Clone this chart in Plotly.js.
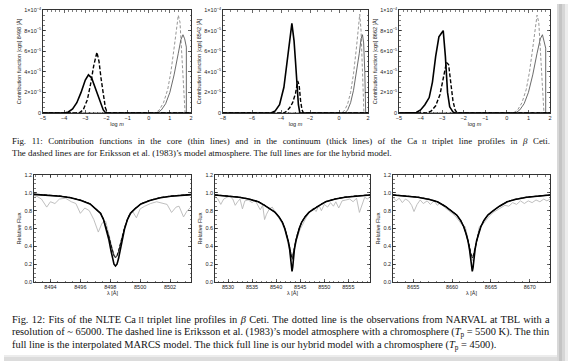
<!DOCTYPE html>
<html><head><meta charset="utf-8">
<script src="https://cdn.plot.ly/plotly-3.0.1.min.js"></script>
<style>html,body{margin:0;padding:0;background:#fff}#c{width:570px;height:361px}</style>
</head><body><div id="c"></div>
<script>
// ---------- Fig. 11 : contribution functions (values in units of 1e-5) ----------
const cfLabels = ["8498", "8542", "8662"];
// 8498
const cf1ThickSolidX = [-5, -4.0, -3.8, -3.6, -3.4, -3.2, -3.0, -2.85, -2.7, -2.5, -2.3, -2.15, -2.05, -1.95, 2];
const cf1ThickSolidY = [0, 0, 0.1, 0.4, 1.0, 2.0, 3.2, 3.7, 3.4, 2.3, 1.0, 0.3, 0.05, 0, 0];
const cf1ThickDashX = [-5, -3.3, -3.1, -2.9, -2.75, -2.6, -2.45, -2.35, -2.25, -2.15, -2.05, -1.95, 2];
const cf1ThickDashY = [0, 0, 0.3, 1.3, 2.8, 4.6, 5.9, 5.0, 3.3, 1.7, 0.5, 0, 0];
const cf1ThinSolidX = [-5, 0.4, 0.6, 0.8, 1.0, 1.2, 1.4, 1.52, 1.62, 1.7, 1.78, 1.78, 2];
const cf1ThinSolidY = [0, 0, 0.3, 0.9, 2.0, 3.7, 5.8, 7.1, 7.6, 7.2, 6.4, 0, 0];
const cf1ThinDashX = [-5, 0.3, 0.5, 0.7, 0.9, 1.05, 1.2, 1.3, 1.4, 1.48, 1.56, 1.64, 1.72, 2];
const cf1ThinDashY = [0, 0, 0.3, 1.0, 2.3, 4.0, 6.3, 8.2, 9.5, 8.8, 6.0, 2.5, 0, 0];
// 8542
const cf2ThickSolidX = [-8, -4.7, -4.4, -4.1, -3.8, -3.6, -3.4, -3.25, -3.1, -3.0, -2.9, -2.8, -2.7, 2];
const cf2ThickSolidY = [0, 0, 0.2, 0.8, 2.5, 4.5, 7.0, 8.7, 7.0, 5.0, 2.5, 0.8, 0, 0];
const cf2ThickDashX = [-8, -3.8, -3.6, -3.4, -3.2, -3.0, -2.85, -2.75, -2.65, -2.55, -2.45, 2];
const cf2ThickDashY = [0, 0, 0.2, 0.5, 1.0, 1.9, 3.1, 2.7, 1.2, 0.3, 0, 0];
const cf2ThinSolidX = [-8, 0.4, 0.6, 0.8, 1.0, 1.2, 1.4, 1.52, 1.62, 1.7, 1.78, 1.84, 2];
const cf2ThinSolidY = [0, 0, 0.3, 1.0, 2.2, 3.8, 5.8, 7.2, 7.6, 6.8, 4.0, 0, 0];
const cf2ThinDashX = [-8, 0.2, 0.4, 0.6, 0.8, 1.0, 1.2, 1.33, 1.43, 1.52, 1.62, 1.72, 2];
const cf2ThinDashY = [0, 0, 0.3, 0.9, 2.0, 3.8, 6.3, 8.5, 9.6, 8.0, 4.5, 0, 0];
// 8662
const cf3ThickSolidX = [-5, -4.5, -4.2, -4.0, -3.8, -3.6, -3.45, -3.3, -3.15, -3.05, -2.95, -2.85, -2.75, -2.65, -2.5, -2.4, 2];
const cf3ThickSolidY = [0, 0, 0.05, 0.3, 0.8, 1.5, 3.0, 5.5, 7.4, 7.7, 8.0, 5.5, 2.0, 0.6, 0.1, 0, 0];
const cf3ThickDashX = [-5, -3.7, -3.5, -3.3, -3.1, -2.95, -2.8, -2.7, -2.6, -2.5, -2.4, -2.3, 2];
const cf3ThickDashY = [0, 0, 0.2, 0.7, 1.8, 3.5, 4.9, 4.7, 3.0, 1.2, 0.3, 0, 0];
const cf3ThinSolidX = [-5, 0.4, 0.6, 0.8, 1.0, 1.2, 1.4, 1.55, 1.65, 1.72, 1.8, 1.8, 2];
const cf3ThinSolidY = [0, 0, 0.3, 0.9, 2.0, 3.7, 5.8, 7.2, 7.6, 7.1, 6.3, 0, 0];
const cf3ThinDashX = [-5, 0.3, 0.5, 0.7, 0.9, 1.05, 1.2, 1.3, 1.4, 1.48, 1.56, 1.64, 1.72, 2];
const cf3ThinDashY = [0, 0, 0.3, 1.0, 2.3, 4.0, 6.3, 8.2, 9.5, 8.8, 6.0, 2.5, 0, 0];

const cfTickVals = [0, 2, 4, 6, 8, 10];
const cfTickText = ["0", "2×10<sup>−5</sup>", "4×10<sup>−5</sup>", "6×10<sup>−5</sup>", "8×10<sup>−5</sup>", "1×10<sup>−4</sup>"];

// ---------- Fig. 12 : line profiles ----------
// 8498
const p1X = [8492.9, 8493.85, 8494.65, 8495.35, 8496.05, 8496.65, 8497.05, 8497.35, 8497.55, 8497.75, 8497.9, 8498.05, 8498.15, 8498.25, 8498.35, 8498.45, 8498.55, 8498.65, 8498.8, 8498.95, 8499.15, 8499.35, 8499.65, 8500.05, 8500.65, 8501.35, 8502.05, 8502.85, 8503.4];
const p1Thick = [0.983, 0.975, 0.962, 0.945, 0.915, 0.875, 0.82, 0.77, 0.70, 0.59, 0.48, 0.35, 0.26, 0.20, 0.18, 0.20, 0.26, 0.35, 0.48, 0.59, 0.70, 0.77, 0.82, 0.875, 0.915, 0.945, 0.962, 0.975, 0.98];
const p1Thin = [0.983, 0.975, 0.962, 0.945, 0.915, 0.875, 0.82, 0.77, 0.70, 0.60, 0.51, 0.41, 0.34, 0.29, 0.27, 0.29, 0.34, 0.41, 0.51, 0.60, 0.70, 0.77, 0.82, 0.875, 0.915, 0.945, 0.962, 0.975, 0.98];
const p1Dash = [0.985, 0.977, 0.965, 0.948, 0.918, 0.878, 0.825, 0.775, 0.705, 0.61, 0.52, 0.42, 0.35, 0.30, 0.28, 0.30, 0.35, 0.42, 0.52, 0.61, 0.705, 0.775, 0.825, 0.878, 0.918, 0.948, 0.965, 0.977, 0.982];
const p1ObsX = [8492.9, 8493.1, 8493.4, 8493.75, 8494.0, 8494.3, 8494.6, 8495.0, 8495.4, 8495.7, 8496.0, 8496.3, 8496.6, 8496.9, 8497.2, 8497.45, 8497.7, 8497.9, 8498.05, 8498.2, 8498.35, 8498.5, 8498.65, 8498.8, 8499.0, 8499.25, 8499.5, 8499.75, 8500.0, 8500.3, 8500.7, 8501.1, 8501.5, 8501.8, 8502.1, 8502.4, 8502.6, 8502.9, 8503.15, 8503.4];
const p1ObsY = [0.97, 0.96, 0.93, 0.84, 0.90, 0.88, 0.93, 0.94, 0.90, 0.88, 0.77, 0.83, 0.80, 0.70, 0.56, 0.66, 0.68, 0.55, 0.42, 0.33, 0.28, 0.30, 0.40, 0.52, 0.64, 0.75, 0.79, 0.72, 0.82, 0.85, 0.88, 0.90, 0.88, 0.87, 0.78, 0.84, 0.85, 0.73, 0.80, 0.84];
// 8542
const p2X = [8527.3, 8529.8, 8532.3, 8534.3, 8536.3, 8537.6, 8538.8, 8539.8, 8540.6, 8541.3, 8541.8, 8542.2, 8542.5, 8542.8, 8543.0, 8543.15, 8543.3, 8543.45, 8543.6, 8543.8, 8544.1, 8544.4, 8544.8, 8545.3, 8546.0, 8546.8, 8547.8, 8549.0, 8550.3, 8552.3, 8554.3, 8556.8, 8559.5];
const p2Thick = [0.975, 0.965, 0.95, 0.93, 0.90, 0.86, 0.82, 0.78, 0.73, 0.67, 0.60, 0.53, 0.46, 0.37, 0.27, 0.17, 0.12, 0.17, 0.27, 0.37, 0.46, 0.53, 0.60, 0.67, 0.73, 0.78, 0.82, 0.86, 0.90, 0.93, 0.95, 0.965, 0.975];
const p2Thin = [0.975, 0.965, 0.95, 0.93, 0.90, 0.86, 0.82, 0.78, 0.73, 0.67, 0.60, 0.53, 0.47, 0.40, 0.34, 0.30, 0.28, 0.30, 0.34, 0.40, 0.47, 0.53, 0.60, 0.67, 0.73, 0.78, 0.82, 0.86, 0.90, 0.93, 0.95, 0.965, 0.975];
const p2Dash = [0.978, 0.968, 0.953, 0.933, 0.903, 0.863, 0.823, 0.783, 0.733, 0.673, 0.603, 0.533, 0.47, 0.39, 0.33, 0.28, 0.25, 0.28, 0.33, 0.39, 0.47, 0.533, 0.603, 0.673, 0.733, 0.783, 0.823, 0.863, 0.903, 0.933, 0.953, 0.968, 0.978];
const p2ObsX = [8527.3, 8527.9, 8528.5, 8529.1, 8529.8, 8530.4, 8531.0, 8531.5, 8532.0, 8532.5, 8533.0, 8533.5, 8534.2, 8535.0, 8535.6, 8536.2, 8536.7, 8537.2, 8537.6, 8538.0, 8538.6, 8539.2, 8539.8, 8540.5, 8541.2, 8541.8, 8542.3, 8542.7, 8543.0, 8543.3, 8543.6, 8543.9, 8544.3, 8544.9, 8545.6, 8546.4, 8547.1, 8547.7, 8548.3, 8548.9, 8549.4, 8550.0, 8550.7, 8551.3, 8551.9, 8552.4, 8553.0, 8553.7, 8554.5, 8555.3, 8556.0, 8556.7, 8557.3, 8557.8, 8558.4, 8559.0, 8559.5];
const p2ObsY = [0.96, 0.93, 0.87, 0.93, 0.95, 0.96, 0.93, 0.86, 0.90, 0.93, 0.82, 0.91, 0.92, 0.89, 0.92, 0.86, 0.81, 0.86, 0.70, 0.76, 0.82, 0.84, 0.79, 0.73, 0.66, 0.58, 0.48, 0.38, 0.30, 0.26, 0.30, 0.38, 0.48, 0.58, 0.66, 0.74, 0.80, 0.83, 0.79, 0.86, 0.80, 0.87, 0.84, 0.89, 0.85, 0.90, 0.83, 0.91, 0.92, 0.93, 0.90, 0.94, 0.78, 0.86, 0.95, 0.93, 0.96];
// 8662
const p3X = [8652.4, 8654.1, 8655.6, 8657.1, 8658.1, 8659.1, 8659.9, 8660.6, 8661.1, 8661.5, 8661.8, 8662.05, 8662.25, 8662.4, 8662.5, 8662.6, 8662.7, 8662.8, 8662.95, 8663.15, 8663.4, 8663.7, 8664.1, 8664.6, 8665.3, 8666.1, 8667.1, 8668.1, 8669.6, 8671.1, 8672.6];
const p3Thick = [0.975, 0.965, 0.95, 0.925, 0.90, 0.85, 0.80, 0.75, 0.69, 0.62, 0.54, 0.46, 0.36, 0.25, 0.16, 0.12, 0.16, 0.25, 0.36, 0.46, 0.54, 0.62, 0.69, 0.75, 0.80, 0.85, 0.90, 0.925, 0.95, 0.965, 0.975];
const p3Thin = [0.975, 0.965, 0.95, 0.925, 0.90, 0.85, 0.80, 0.75, 0.69, 0.62, 0.54, 0.47, 0.39, 0.32, 0.28, 0.27, 0.28, 0.32, 0.39, 0.47, 0.54, 0.62, 0.69, 0.75, 0.80, 0.85, 0.90, 0.925, 0.95, 0.965, 0.975];
const p3Dash = [0.978, 0.968, 0.953, 0.928, 0.903, 0.853, 0.803, 0.753, 0.693, 0.623, 0.55, 0.48, 0.40, 0.33, 0.29, 0.28, 0.29, 0.33, 0.40, 0.48, 0.55, 0.623, 0.693, 0.753, 0.803, 0.853, 0.903, 0.928, 0.953, 0.968, 0.978];
const p3ObsX = [8652.4, 8652.8, 8653.2, 8653.6, 8654.0, 8654.4, 8654.8, 8655.1, 8655.5, 8655.9, 8656.3, 8656.8, 8657.2, 8657.7, 8658.1, 8658.5, 8659.0, 8659.5, 8660.0, 8660.5, 8660.9, 8661.3, 8661.7, 8662.0, 8662.3, 8662.6, 8662.9, 8663.2, 8663.5, 8663.9, 8664.3, 8664.8, 8665.3, 8665.8, 8666.3, 8666.8, 8667.3, 8667.8, 8668.3, 8668.8, 8669.3, 8669.8, 8670.3, 8670.8, 8671.3, 8671.8, 8672.2, 8672.6];
const p3ObsY = [0.95, 0.91, 0.94, 0.89, 0.93, 0.91, 0.86, 0.79, 0.87, 0.92, 0.88, 0.91, 0.87, 0.91, 0.86, 0.89, 0.84, 0.81, 0.77, 0.73, 0.68, 0.64, 0.62, 0.50, 0.33, 0.24, 0.33, 0.50, 0.62, 0.64, 0.69, 0.74, 0.78, 0.81, 0.84, 0.86, 0.85, 0.89, 0.87, 0.91, 0.88, 0.91, 0.89, 0.92, 0.90, 0.93, 0.91, 0.93];

const profTickVals = [[8494, 8496, 8498, 8500, 8502], [8530, 8535, 8540, 8545, 8550, 8555], [8655, 8660, 8665, 8670]];
const fluxTicks = [0, 0.2, 0.4, 0.6, 0.8, 1.0, 1.2];

// ---------- build ----------
const W = 570, H = 361;
const px = (a, b) => [a / W, b / W];
const py = (top, bot) => [1 - bot / H, 1 - top / H];
const e5 = a => a.map(v => v * 1e-5);

const traces = [];
function cfTraces(ax, tsx, tsy, tdx, tdy, nsx, nsy, ndx, ndy) {
  const xa = 'x' + ax, ya = 'y' + ax;
  traces.push({x: ndx, y: e5(ndy), xaxis: xa, yaxis: ya, mode: 'lines', line: {color: '#8a8a8a', width: 0.9, dash: '3px,2px'}});
  traces.push({x: nsx, y: e5(nsy), xaxis: xa, yaxis: ya, mode: 'lines', line: {color: '#5a5a5a', width: 0.9}});
  traces.push({x: tdx, y: e5(tdy), xaxis: xa, yaxis: ya, mode: 'lines', line: {color: '#000', width: 1.4, dash: '4px,2px'}});
  traces.push({x: tsx, y: e5(tsy), xaxis: xa, yaxis: ya, mode: 'lines', line: {color: '#000', width: 1.6}});
}
cfTraces('', cf1ThickSolidX, cf1ThickSolidY, cf1ThickDashX, cf1ThickDashY, cf1ThinSolidX, cf1ThinSolidY, cf1ThinDashX, cf1ThinDashY);
cfTraces('2', cf2ThickSolidX, cf2ThickSolidY, cf2ThickDashX, cf2ThickDashY, cf2ThinSolidX, cf2ThinSolidY, cf2ThinDashX, cf2ThinDashY);
cfTraces('3', cf3ThickSolidX, cf3ThickSolidY, cf3ThickDashX, cf3ThickDashY, cf3ThinSolidX, cf3ThinSolidY, cf3ThinDashX, cf3ThinDashY);

function profTraces(ax, x, thick, thin, dash, ox, oy) {
  const xa = 'x' + ax, ya = 'y' + ax;
  traces.push({x: ox, y: oy, xaxis: xa, yaxis: ya, mode: 'lines', line: {color: '#b8b8b8', width: 0.9}});
  traces.push({x: x, y: dash, xaxis: xa, yaxis: ya, mode: 'lines', line: {color: '#000', width: 0.8, dash: '3px,2px'}});
  traces.push({x: x, y: thin, xaxis: xa, yaxis: ya, mode: 'lines', line: {color: '#000', width: 0.8}});
  traces.push({x: x, y: thick, xaxis: xa, yaxis: ya, mode: 'lines', line: {color: '#000', width: 1.6}});
}
profTraces('4', p1X, p1Thick, p1Thin, p1Dash, p1ObsX, p1ObsY);
profTraces('5', p2X, p2Thick, p2Thin, p2Dash, p2ObsX, p2ObsY);
profTraces('6', p3X, p3Thick, p3Thin, p3Dash, p3ObsX, p3ObsY);

const tickFont = {family: 'Liberation Sans, Arial, sans-serif', size: 5.5, color: '#222'};
const titleFont = {family: 'Liberation Sans, Arial, sans-serif', size: 5.5, color: '#222'};
function xAx(dom, range, anchor, dtick, minorDtick, title, tickvals) {
  const a = {domain: dom, range: range, anchor: anchor, showgrid: false, zeroline: false,
    showline: true, linecolor: '#000', linewidth: 0.8, mirror: 'allticks',
    ticks: 'inside', ticklen: 3, tickcolor: '#000', tickwidth: 0.6,
    minor: {ticks: 'inside', ticklen: 1.5, dtick: minorDtick, tickcolor: '#000', tickwidth: 0.5, showgrid: false},
    tickfont: tickFont, title: {text: title, font: titleFont, standoff: 1}, fixedrange: true};
  if (tickvals) { a.tickmode = 'array'; a.tickvals = tickvals; } else { a.dtick = dtick; a.tick0 = 0; }
  return a;
}
function yAx(dom, range, anchor, tickvals, ticktext, minorDtick, title) {
  return {domain: dom, range: range, anchor: anchor, showgrid: false, zeroline: false,
    showline: true, linecolor: '#000', linewidth: 0.8, mirror: 'allticks',
    ticks: 'inside', ticklen: 3, tickcolor: '#000', tickwidth: 0.6,
    minor: {ticks: 'inside', ticklen: 1.5, dtick: minorDtick, tickcolor: '#000', tickwidth: 0.5, showgrid: false},
    tickmode: 'array', tickvals: tickvals, ticktext: ticktext,
    tickfont: tickFont, title: {text: title, font: titleFont, standoff: 2}, fixedrange: true};
}
const topY = py(10, 113), botY = py(175, 282);
const cfVals = cfTickVals.map(v => v * 1e-5);
const fluxText = fluxTicks.map(v => v.toFixed(1));

const layout = {
  width: W, height: H, margin: {l: 0, r: 0, t: 0, b: 0},
  paper_bgcolor: '#fff', plot_bgcolor: '#fff', showlegend: false,
  font: {family: 'Liberation Sans, Arial, sans-serif'},
  xaxis: xAx(px(43, 191), [-5, 2], 'y', 1, 0.2, 'log <i>m</i>'),
  yaxis: yAx(topY, [0, 1e-4], 'x', cfVals, cfTickText, 0.5e-5, 'Contribution function [cgs] ' + cfLabels[0] + ' [Å]'),
  xaxis2: xAx(px(223, 368), [-8, 2], 'y2', 2, 0.5, 'log <i>m</i>'),
  yaxis2: yAx(topY, [0, 1e-4], 'x2', cfVals, cfTickText, 0.5e-5, 'Contribution function [cgs] ' + cfLabels[1] + ' [Å]'),
  xaxis3: xAx(px(399, 550), [-5, 2], 'y3', 1, 0.2, 'log <i>m</i>'),
  yaxis3: yAx(topY, [0, 1e-4], 'x3', cfVals, cfTickText, 0.5e-5, 'Contribution function [cgs] ' + cfLabels[2] + ' [Å]'),
  xaxis4: xAx(px(34, 191), [8492.9, 8503.4], 'y4', null, 0.5, 'λ [Å]', profTickVals[0]),
  yaxis4: yAx(botY, [0, 1.2], 'x4', fluxTicks, fluxText, 0.05, 'Relative Flux'),
  xaxis5: xAx(px(215, 370), [8527.3, 8559.5], 'y5', null, 1, 'λ [Å]', profTickVals[1]),
  yaxis5: yAx(botY, [0, 1.2], 'x5', fluxTicks, fluxText, 0.05, 'Relative Flux'),
  xaxis6: xAx(px(393, 550), [8652.4, 8672.6], 'y6', null, 1, 'λ [Å]', profTickVals[2]),
  yaxis6: yAx(botY, [0, 1.2], 'x6', fluxTicks, fluxText, 0.05, 'Relative Flux'),
  shapes: [
    {type: 'rect', xref: 'paper', yref: 'paper', x0: 557/W, x1: 559/W, y0: 0, y1: 1 - 4/H, line: {width: 0}, fillcolor: '#d8d8d8'},
    {type: 'rect', xref: 'paper', yref: 'paper', x0: 559/W, x1: 562/W, y0: 0, y1: 1 - 4/H, line: {width: 0}, fillcolor: '#c4c4c4'},
    {type: 'rect', xref: 'paper', yref: 'paper', x0: 562/W, x1: 565/W, y0: 0, y1: 1 - 4/H, line: {width: 0}, fillcolor: '#d6d6d6'},
    {type: 'rect', xref: 'paper', yref: 'paper', x0: 565/W, x1: 568/W, y0: 0, y1: 1 - 4/H, line: {width: 0}, fillcolor: '#ececec'},
    {type: 'rect', xref: 'paper', yref: 'paper', x0: 4/W, x1: 557/W, y0: 1 - 361/H, y1: 1 - 357/H, line: {width: 0}, fillcolor: '#dcdcdc'},
    {type: 'rect', xref: 'paper', yref: 'paper', x0: 4/W, x1: 557/W, y0: 1 - 357/H, y1: 1 - 355/H, line: {width: 0}, fillcolor: '#ececec'}
  ],
  annotations: []
};
const capFont11 = {family: 'Liberation Serif, Times New Roman, serif', size: 8.9, color: '#111'};
const capFont12 = {family: 'Liberation Serif, Times New Roman, serif', size: 10.4, color: '#111'};
const ca11 = 'Ca<span style="font-size:6.5px"> II</span>';
const ca12 = 'Ca<span style="font-size:7.6px"> II</span>';
// [y centre px, text, justify to right edge?, font]
const captions = [
  [141, 'Fig. 11: Contribution functions in the core (thin lines) and in the continuum (thick lines) of the ' + ca11 + ' triplet line profiles in <i>β</i> Ceti.', true, capFont11],
  [153, 'The dashed lines are for Eriksson et al. (1983)’s model atmosphere. The full lines are for the hybrid model.', false, capFont11],
  [319, 'Fig. 12: Fits of the NLTE ' + ca12 + ' triplet line profiles in <i>β</i> Ceti. The dotted line is the observations from NARVAL at TBL with a', true, capFont12],
  [332, 'resolution of ~ 65000. The dashed line is Eriksson et al. (1983)’s model atmosphere with a chromosphere (<i>T</i><sub>p</sub> = 5500 K). The thin', true, capFont12],
  [345, 'full line is the interpolated MARCS model. The thick full line is our hybrid model with a chromosphere (<i>T</i><sub>p</sub> = 4500).', false, capFont12]
];
captions.forEach(c => layout.annotations.push({xref: 'paper', yref: 'paper', x: 10/W, y: 1 - c[0]/H, xanchor: 'left', yanchor: 'middle', showarrow: false, text: c[1], font: c[3], align: 'left'}));

Plotly.newPlot('c', traces, layout, {displayModeBar: false, staticPlot: true}).then(() => {
  const target = 548 - 10;
  const groups = document.querySelectorAll('#c g.annotation');
  groups.forEach(g => {
    const idx = +g.getAttribute('data-index');
    if (!captions[idx] || !captions[idx][2]) return;
    const t = g.querySelector('text.annotation-text');
    if (!t) return;
    const w = t.getBBox().width;
    const nSpaces = (t.textContent.match(/ /g) || []).length;
    if (nSpaces > 0) t.style.wordSpacing = ((target - w) / nSpaces).toFixed(3) + 'px';
  });
});
</script></body></html>
